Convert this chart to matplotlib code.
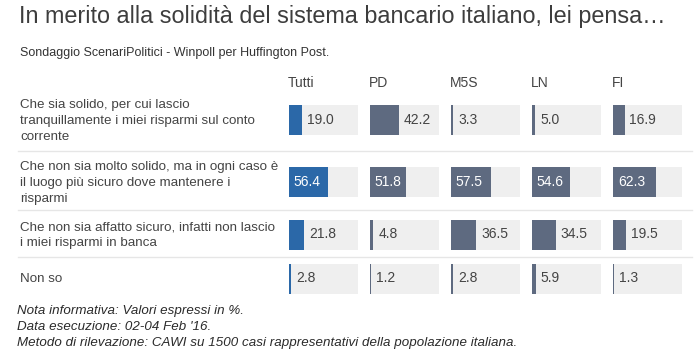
import matplotlib.pyplot as plt

# -------------------- Data --------------------
title = "In merito alla solidità del sistema bancario italiano, lei pensa…"
subtitle = "Sondaggio ScenariPolitici - Winpoll per Huffington Post."
groups = ["Tutti", "PD", "M5S", "LN", "FI"]
answers = [
    "Che sia solido, per cui lascio\ntranquillamente i miei risparmi sul conto\ncorrente",
    "Che non sia molto solido, ma in ogni caso è\nil luogo più sicuro dove mantenere i\nrisparmi",
    "Che non sia affatto sicuro, infatti non lascio\ni miei risparmi in banca",
    "Non so",
]
tutti = [19.0, 56.4, 21.8, 2.8]
pd_vals = [42.2, 51.8, 4.8, 1.2]
m5s = [3.3, 57.5, 36.5, 2.8]
ln = [5.0, 54.6, 34.5, 5.9]
fi = [16.9, 62.3, 19.5, 1.3]
notes = [
    "Nota informativa: Valori espressi in %.",
    "Data esecuzione: 02-04 Feb '16.",
    "Metodo di rilevazione: CAWI su 1500 casi rappresentativi della popolazione italiana.",
]

# -------------------- Layout --------------------
W, H = 700, 359
plt.rcParams['font.family'] = ['Liberation Sans', 'DejaVu Sans']
fig = plt.figure(figsize=(W / 100, H / 100), dpi=100)
fig.patch.set_facecolor("white")


def fx(x):
    return x / W


def fy(y):
    return 1 - y / H


row_y = [120, 182, 234.5, 278.5]
bar_h = 30
col_x = [289, 370, 451, 532, 613]
col_w = 69
blue = "#2b68a8"
slate = "#5e6a80"
box = "#efefef"
txt = "#444444"

fig.text(fx(19), fy(17), title, fontsize=16.8, color="#3d3d3d", va="center", ha="left")
fig.text(fx(20), fy(53), subtitle, fontsize=9, color="#333333", va="center", ha="left")

# separators between rows
for y in [151, 210, 257]:
    fig.add_artist(plt.Line2D([fx(18), fx(692)], [fy(y), fy(y)], color="#e6e6e6", lw=1))

for label, y in zip(answers, row_y):
    fig.text(fx(20), fy(y + 1), label, fontsize=9.6, color=txt, va="center", ha="left",
             linespacing=1.4)

series = [tutti, pd_vals, m5s, ln, fi]
for i, (name, vals) in enumerate(zip(groups, series)):
    ax = fig.add_axes([fx(col_x[i]), 0, col_w / W, 1])
    ax.set_xlim(0, 100)
    ax.set_ylim(H, 0)
    ax.axis("off")
    color = blue if i == 0 else slate
    ax.barh(row_y, [100] * len(vals), height=bar_h, color=box, lw=0)
    ax.barh(row_y, vals, height=bar_h, color=color, lw=0)
    for v, y in zip(vals, row_y):
        if v >= 50:
            ax.text(7, y, f"{v:.1f}", color="white", fontsize=10, va="center", ha="left")
        else:
            ax.text(v + 7, y, f"{v:.1f}", color=txt, fontsize=10, va="center", ha="left")
    fig.text(fx(col_x[i] - 1), fy(83), name, fontsize=10, color=txt, va="center", ha="left")

for k, n in enumerate(notes):
    fig.text(fx(17), fy(311 + 16 * k), n, fontsize=9.6, style="italic", color="#2a2a2a",
             va="center", ha="left")

fig.savefig("out.png", dpi=100)
